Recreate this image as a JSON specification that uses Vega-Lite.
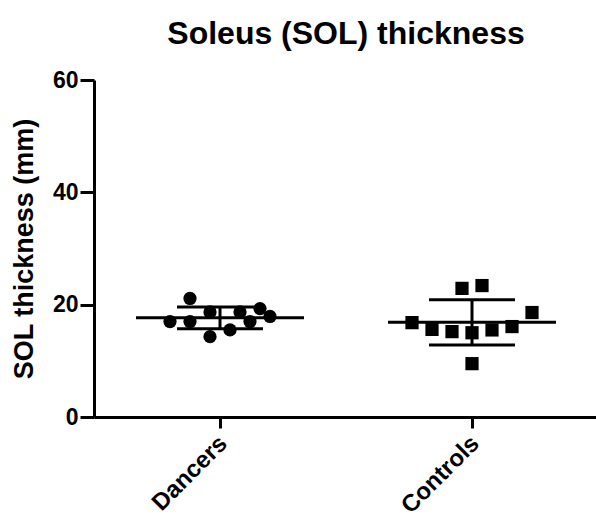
{
  "$schema": "https://vega.github.io/schema/vega-lite/v6.json",
  "autosize": "none",
  "padding": {"left": 94, "top": 80, "right": 0, "bottom": 101},
  "width": 504,
  "height": 337,
  "background": "white",
  "title": {
    "text": "Soleus (SOL) thickness",
    "font": "Liberation Sans",
    "fontSize": 32,
    "fontWeight": "bold",
    "color": "black",
    "anchor": "middle",
    "offset": 18
  },
  "config": {
    "view": {"stroke": null},
    "font": "Liberation Sans"
  },
  "data": {
    "values": [
      {"group": "Dancers", "thickness": 21.1, "jitter": -1.5},
      {"group": "Dancers", "thickness": 17.0, "jitter": -2.5},
      {"group": "Dancers", "thickness": 17.0, "jitter": -1.5},
      {"group": "Dancers", "thickness": 18.7, "jitter": -0.5},
      {"group": "Dancers", "thickness": 14.3, "jitter": -0.5},
      {"group": "Dancers", "thickness": 15.5, "jitter": 0.5},
      {"group": "Dancers", "thickness": 18.7, "jitter": 1.0},
      {"group": "Dancers", "thickness": 17.0, "jitter": 1.5},
      {"group": "Dancers", "thickness": 19.3, "jitter": 2.0},
      {"group": "Dancers", "thickness": 17.9, "jitter": 2.5},
      {"group": "Controls", "thickness": 22.9, "jitter": -0.5},
      {"group": "Controls", "thickness": 23.4, "jitter": 0.5},
      {"group": "Controls", "thickness": 16.8, "jitter": -3.0},
      {"group": "Controls", "thickness": 15.6, "jitter": -2.0},
      {"group": "Controls", "thickness": 15.2, "jitter": -1.0},
      {"group": "Controls", "thickness": 15.0, "jitter": 0.0},
      {"group": "Controls", "thickness": 15.5, "jitter": 1.0},
      {"group": "Controls", "thickness": 16.1, "jitter": 2.0},
      {"group": "Controls", "thickness": 18.6, "jitter": 3.0},
      {"group": "Controls", "thickness": 9.5, "jitter": 0.0}
    ]
  },
  "encoding": {
    "x": {
      "field": "group",
      "type": "nominal",
      "sort": ["Dancers", "Controls"],
      "scale": {"paddingInner": 0, "paddingOuter": 0},
      "axis": {
        "title": null,
        "labelAngle": -45,
        "labelFont": "Liberation Sans",
        "labelFontSize": 24,
        "labelFontWeight": "bold",
        "labelColor": "black",
        "labelPadding": 3,
        "labelOffset": -5,
        "tickSize": 11,
        "tickWidth": 3,
        "tickColor": "black",
        "domainWidth": 3,
        "domainColor": "black",
        "grid": false
      }
    },
    "y": {
      "field": "thickness",
      "type": "quantitative",
      "scale": {"domain": [0, 60], "nice": false, "zero": true},
      "axis": {
        "title": "SOL thickness (mm)",
        "titleFont": "Liberation Sans",
        "titleFontSize": 27,
        "titleFontWeight": "bold",
        "titleColor": "black",
        "titlePadding": 14,
        "values": [0, 20, 40, 60],
        "labelFont": "Liberation Sans",
        "labelFontSize": 23,
        "labelFontWeight": "bold",
        "labelColor": "black",
        "labelPadding": 2,
        "tickSize": 14,
        "tickWidth": 3,
        "tickColor": "black",
        "domainWidth": 3,
        "domainColor": "black",
        "grid": false
      }
    }
  },
  "layer": [
    {
      "mark": {"type": "point", "filled": true, "opacity": 1, "color": "black"},
      "encoding": {
        "xOffset": {"field": "jitter", "type": "quantitative", "scale": {"domain": [-3, 3], "range": [66, 186]}},
        "shape": {
          "field": "group",
          "type": "nominal",
          "scale": {"domain": ["Dancers", "Controls"], "range": ["circle", "square"]},
          "legend": null
        },
        "size": {"value": 175}
      }
    },
    {
      "mark": {"type": "tick", "color": "black", "opacity": 1, "thickness": 3, "size": 168},
      "encoding": {
        "y": {"field": "thickness", "type": "quantitative", "aggregate": "mean"}
      }
    },
    {
      "mark": {
        "type": "errorbar",
        "extent": "stdev",
        "color": "black",
        "opacity": 1,
        "rule": {"strokeWidth": 3, "color": "black", "opacity": 1},
        "ticks": {"size": 86, "thickness": 3, "color": "black", "opacity": 1}
      },
      "encoding": {
        "y": {"field": "thickness", "type": "quantitative"}
      }
    }
  ]
}
